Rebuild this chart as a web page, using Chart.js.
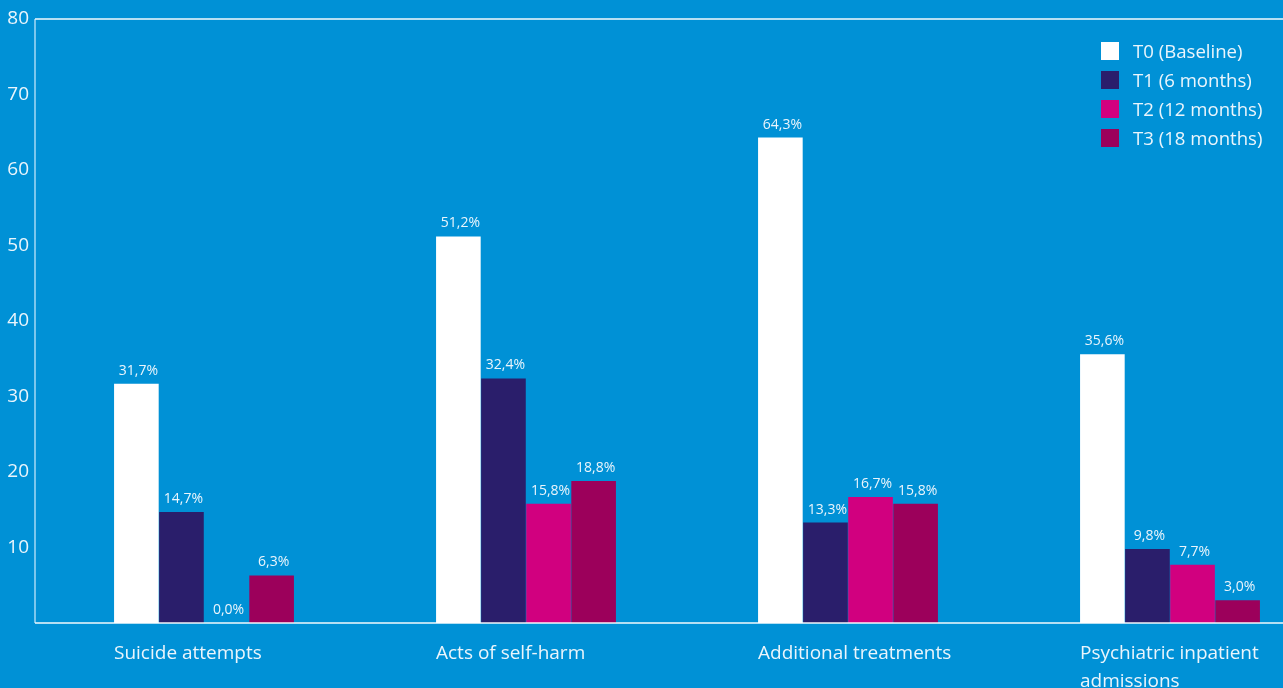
<!DOCTYPE html>
<html>
<head>
<meta charset="utf-8">
<script src="https://cdn.jsdelivr.net/npm/chart.js@4/dist/chart.umd.min.js"></script>
<style>
  html, body { margin: 0; padding: 0; background: #0091d6; overflow: hidden; width: 1283px; height: 688px; }
  #wrap { position: absolute; left: 0; top: 0; width: 1331px; height: 688px; }
  #legend { position: absolute; left: 1101px; top: 36px; font-family: "Open Sans", sans-serif; font-size: 18.6px; color: #eaf5fc; }
  #legend .row { height: 29px; display: flex; align-items: center; }
  #legend .sw { width: 18px; height: 18px; margin-right: 14px; }
</style>
</head>
<body>
<div id="wrap"><canvas id="c" width="1331" height="688"></canvas></div>
<div id="legend"></div>
<script>
const categories = ["Suicide attempts", "Acts of self-harm", "Additional treatments", ["Psychiatric inpatient", "admissions"]];
const seriesLabels = ["T0 (Baseline)", "T1 (6 months)", "T2 (12 months)", "T3 (18 months)"];
const seriesColors = ["#ffffff", "#2a1e6b", "#d1007f", "#9c005b"];
const t0 = [31.7, 51.2, 64.3, 35.6];
const t1 = [14.7, 32.4, 13.3, 9.8];
const t2 = [0.0, 15.8, 16.7, 7.7];
const t3 = [6.3, 18.8, 15.8, 3.0];
const yMin = 0, yMax = 80, yStep = 10;

const seriesData = [t0, t1, t2, t3];
const textColor = "#eaf5fc";
const fontFamily = '"Open Sans", sans-serif';

const legendEl = document.getElementById('legend');
seriesLabels.forEach((l, i) => {
  const r = document.createElement('div'); r.className = 'row';
  const s = document.createElement('div'); s.className = 'sw'; s.style.background = seriesColors[i];
  const t = document.createElement('span'); t.textContent = l;
  r.appendChild(s); r.appendChild(t); legendEl.appendChild(r);
});

const framePlugin = {
  id: 'frame',
  afterDraw(chart) {
    const ctx = chart.ctx, a = chart.chartArea;
    ctx.save();
    ctx.lineWidth = 1.5;
    ctx.strokeStyle = 'rgba(255,255,255,0.95)';
    ctx.beginPath(); ctx.moveTo(35, a.top); ctx.lineTo(chart.width, a.top); ctx.stroke();
    ctx.beginPath(); ctx.moveTo(35, a.bottom); ctx.lineTo(chart.width, a.bottom); ctx.stroke();
    ctx.strokeStyle = 'rgba(220,240,255,0.75)';
    ctx.beginPath(); ctx.moveTo(35, a.top); ctx.lineTo(35, a.bottom); ctx.stroke();
    ctx.restore();
  }
};

const valueLabels = {
  id: 'valueLabels',
  afterDatasetsDraw(chart) {
    const ctx = chart.ctx;
    ctx.save();
    ctx.font = '14px ' + fontFamily;
    ctx.fillStyle = textColor;
    ctx.textAlign = 'center';
    ctx.textBaseline = 'alphabetic';
    chart.data.datasets.forEach((ds, di) => {
      chart.getDatasetMeta(di).data.forEach((bar, i) => {
        const v = ds.data[i];
        const txt = v.toFixed(1).replace('.', ',') + '%';
        ctx.fillText(txt, bar.x + 2, bar.y - 9);
      });
    });
    ctx.restore();
  }
};

new Chart(document.getElementById('c'), {
  type: 'bar',
  data: {
    labels: categories,
    datasets: seriesLabels.map((l, i) => ({
      label: l,
      data: seriesData[i],
      backgroundColor: seriesColors[i],
      borderWidth: 0,
      barPercentage: 0.99,
      categoryPercentage: 0.56
    }))
  },
  options: {
    responsive: false,
    animation: false,
    layout: { padding: { top: 19, right: 0, left: 0, bottom: 0 } },
    plugins: { legend: { display: false }, tooltip: { enabled: false } },
    scales: {
      x: {
        offset: true,
        grid: { display: false, drawTicks: false },
        border: { display: false },
        ticks: {
          color: textColor,
          font: { family: fontFamily, size: 19, lineHeight: 1.47 },
          align: 'start',
          labelOffset: -90,
          padding: 17,
          maxRotation: 0,
          autoSkip: false
        },
        afterFit(s) { s.height = 65; s.paddingLeft = 0; s.paddingRight = 0; }
      },
      y: {
        min: yMin, max: yMax,
        grid: { display: false, drawTicks: false },
        border: { display: false },
        ticks: {
          stepSize: yStep,
          color: textColor,
          font: { family: fontFamily, size: 19 },
          padding: 14,
          callback: v => v === 0 ? '' : String(v)
        },
        afterFit(s) { s.width = 43; s.paddingTop = 0; s.paddingBottom = 0; }
      }
    }
  },
  plugins: [framePlugin, valueLabels]
});
</script>
</body>
</html>
